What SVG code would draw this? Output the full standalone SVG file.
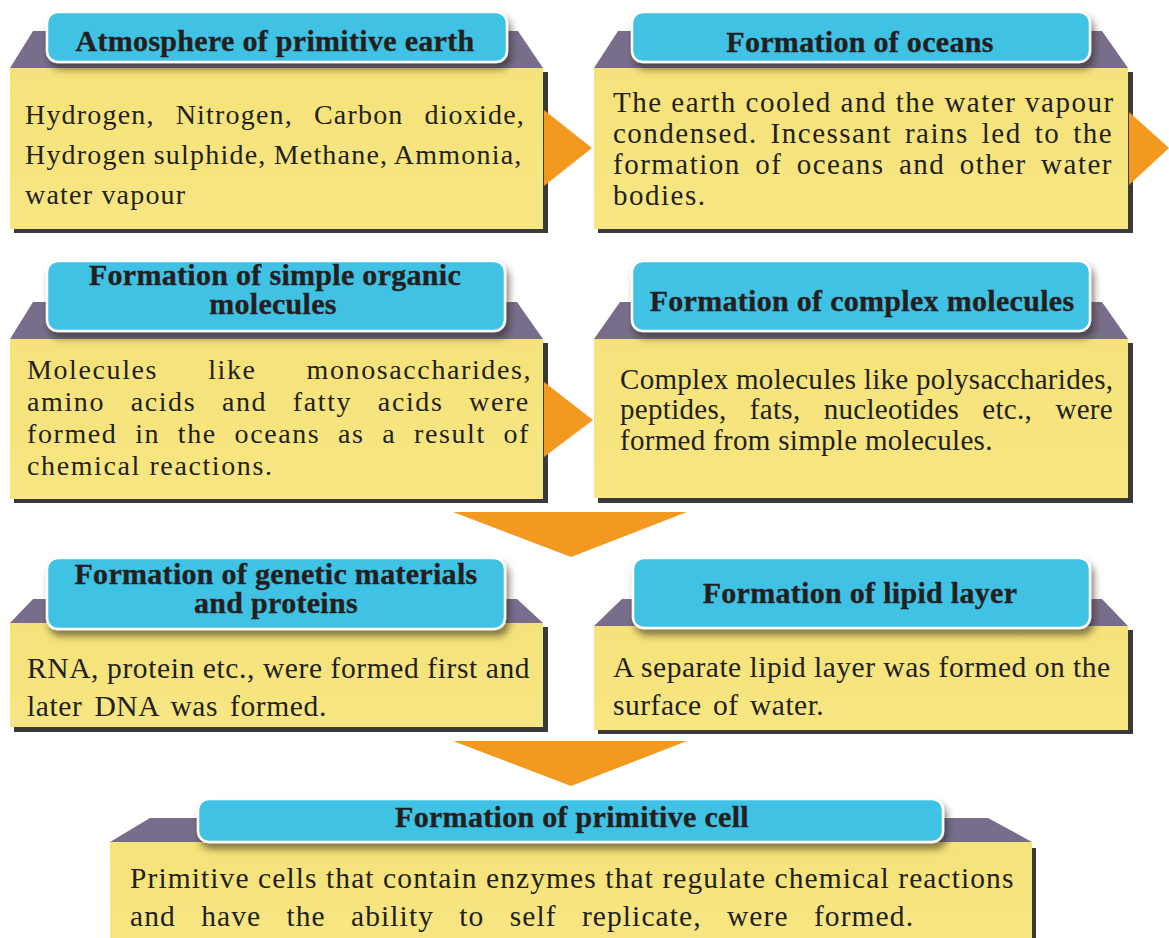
<svg xmlns="http://www.w3.org/2000/svg" width="1169" height="938" viewBox="0 0 1169 938">
  <defs>
    <filter id="hdrShadow" x="-10%" y="-30%" width="120%" height="180%">
      <feDropShadow dx="3" dy="6" stdDeviation="3.5" flood-color="#2a2418" flood-opacity="0.55"/>
    </filter>
    <linearGradient id="panelFill" x1="0" y1="0" x2="0" y2="1">
      <stop offset="0" stop-color="#f5e27a"/>
      <stop offset="1" stop-color="#f7e682"/>
    </linearGradient>
  </defs>
  <style>
    .tab { fill: #786e8b; }
    .drop { fill: #3a3a3a; }
    .panel { fill: url(#panelFill); }
    .hdr { fill: #41c2e4; stroke: #ffffff; stroke-width: 2.5; filter: url(#hdrShadow); }
    .ht { font-family: 'Liberation Serif', 'Times New Roman', serif; font-weight: bold; font-size: 30px; letter-spacing: 0.3px; fill: #231f20; stroke: #231f20; stroke-width: 0.35; text-anchor: middle; }
    .bt { font-family: 'Liberation Serif', 'Times New Roman', serif; font-size: 29px; fill: #231f20; }
    .b1 { font-size: 28px; letter-spacing: 1.2px; }
    .b2 { font-size: 29px; letter-spacing: 1.5px; }
    .b3 { font-size: 28px; letter-spacing: 1.6px; }
    .b4 { font-size: 29px; letter-spacing: 0.3px; }
    .b5 { font-size: 29.5px; letter-spacing: 0.6px; }
    .b6 { font-size: 29.5px; letter-spacing: 0.5px; }
    .b7 { font-size: 29.5px; letter-spacing: 1.09px; }
    .arrow { fill: #f4991f; }
  </style>

  <rect width="1169" height="938" fill="#ffffff"/>

  <!-- Step 1 -->
  <g id="atmosphere">
    <polygon class="tab" points="33,31 518,31 543,68 10,68"/>
    <rect class="drop" x="14" y="72" width="534" height="161"/>
    <rect class="panel" x="10" y="68" width="533" height="161"/>
    <rect class="hdr" x="47" y="12" width="460" height="50" rx="11"/>
    <text class="ht" x="275" y="51">Atmosphere of primitive earth</text>
    <text class="bt b1" x="25" y="124" word-spacing="12.7">Hydrogen, Nitrogen, Carbon dioxide,</text>
    <text class="bt b1" x="25" y="164" word-spacing="-1">Hydrogen sulphide, Methane, Ammonia,</text>
    <text class="bt b1" x="25" y="204">water vapour</text>
  </g>

  <!-- Step 2 -->
  <g id="oceans">
    <polygon class="tab" points="618,31 1102,31 1128,68 594,68"/>
    <rect class="drop" x="598" y="72" width="535" height="161"/>
    <rect class="panel" x="594" y="68" width="534" height="161"/>
    <rect class="hdr" x="632" y="12" width="458" height="50" rx="11"/>
    <text class="ht" x="860" y="52">Formation of oceans</text>
    <text class="bt b2" x="613" y="112">The earth cooled and the water vapour</text>
    <text class="bt b2" x="613" y="143" word-spacing="4.2">condensed. Incessant rains led to the</text>
    <text class="bt b2" x="613" y="174" word-spacing="5.6">formation of oceans and other water</text>
    <text class="bt b2" x="613" y="205">bodies.</text>
  </g>

  <!-- Step 3 -->
  <g id="simple-organic">
    <polygon class="tab" points="33,302 517,302 543,339 10,339"/>
    <rect class="drop" x="14" y="343" width="534" height="160"/>
    <rect class="panel" x="10" y="339" width="533" height="160"/>
    <rect class="hdr" x="47" y="261" width="458" height="70" rx="11"/>
    <text class="ht" x="275" y="285">Formation of simple organic</text>
    <text class="ht" x="273" y="314">molecules</text>
    <text class="bt b3" x="27" y="379" word-spacing="41.5">Molecules like monosaccharides,</text>
    <text class="bt b3" x="27" y="411" word-spacing="17.1">amino acids and fatty acids were</text>
    <text class="bt b3" x="27" y="443" word-spacing="9.1">formed in the oceans as a result of</text>
    <text class="bt b3" x="27" y="475">chemical reactions.</text>
  </g>

  <!-- Step 4 -->
  <g id="complex-molecules">
    <polygon class="tab" points="620,302 1102,302 1128,339 594,339"/>
    <rect class="drop" x="598" y="343" width="535" height="160"/>
    <rect class="panel" x="594" y="339" width="534" height="159"/>
    <rect class="hdr" x="632" y="261" width="458" height="70" rx="11"/>
    <text class="ht" x="862" y="311">Formation of complex molecules</text>
    <text class="bt b4" x="620" y="389">Complex molecules like polysaccharides,</text>
    <text class="bt b4" x="620" y="419" word-spacing="15.7">peptides, fats, nucleotides etc., were</text>
    <text class="bt b4" x="620" y="450">formed from simple molecules.</text>
  </g>

  <!-- Step 5 -->
  <g id="genetic-materials">
    <polygon class="tab" points="33,599 517,599 543,623 10,623"/>
    <rect class="drop" x="14" y="627" width="534" height="105"/>
    <rect class="panel" x="10" y="623" width="533" height="104"/>
    <rect class="hdr" x="47" y="558" width="458" height="71" rx="11"/>
    <text class="ht" x="276" y="584">Formation of genetic materials</text>
    <text class="ht" x="276" y="613">and proteins</text>
    <text class="bt b5" x="27" y="678">RNA, protein etc., were formed first and</text>
    <text class="bt b5" x="27" y="716" word-spacing="4">later DNA was formed.</text>
  </g>

  <!-- Step 6 -->
  <g id="lipid-layer">
    <polygon class="tab" points="622,599 1102,599 1128,626 594,626"/>
    <rect class="drop" x="598" y="630" width="535" height="104"/>
    <rect class="panel" x="594" y="626" width="534" height="104"/>
    <rect class="hdr" x="633" y="558" width="457" height="70" rx="11"/>
    <text class="ht" x="860" y="603">Formation of lipid layer</text>
    <text class="bt b6" x="613" y="677">A separate lipid layer was formed on the</text>
    <text class="bt b6" x="613" y="715" word-spacing="3.5">surface of water.</text>
  </g>

  <!-- Step 7 -->
  <g id="primitive-cell">
    <polygon class="tab" points="150,818 988,818 1032,842 110,842"/>
    <rect class="drop" x="114" y="848" width="922" height="100"/>
    <rect class="panel" x="110" y="842" width="922" height="100"/>
    <rect class="hdr" x="198" y="799" width="745" height="43" rx="11"/>
    <text class="ht" x="572" y="827">Formation of primitive cell</text>
    <text class="bt b7" x="130" y="888">Primitive cells that contain enzymes that regulate chemical reactions</text>
    <text class="bt b7" x="130" y="926" word-spacing="16.8">and have the ability to self replicate, were formed.</text>
  </g>

  <!-- Flow arrows -->
  <g id="connectors">
    <polygon class="arrow" points="544,110 592,148 544,186"/>
    <polygon class="arrow" points="1129,112 1169,148 1129,185"/>
    <polygon class="arrow" points="544,382 593,420 544,457"/>
    <polygon class="arrow" points="453,512 687,512 571,557"/>
    <polygon class="arrow" points="453,741 687,741 571,786"/>
  </g>
</svg>
